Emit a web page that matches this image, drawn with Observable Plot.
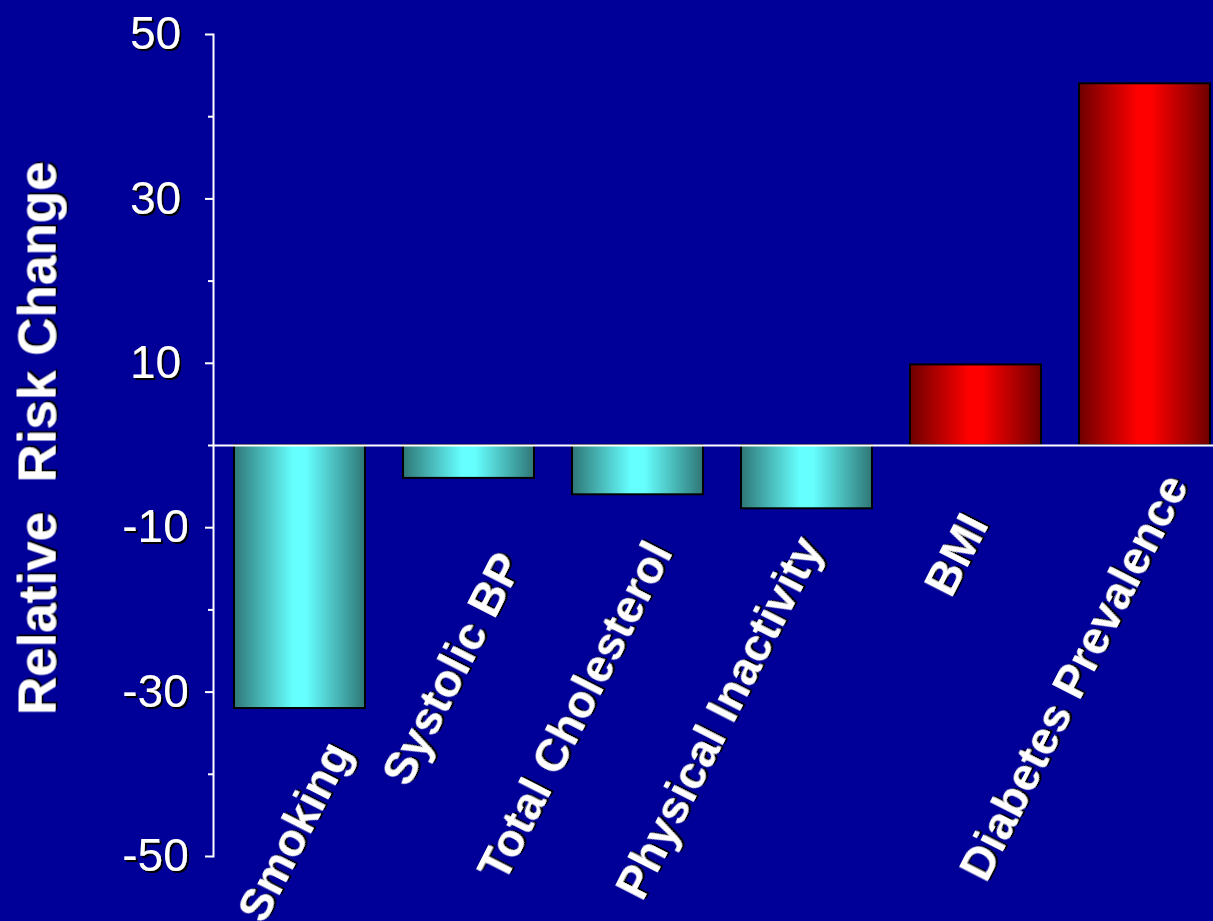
<!DOCTYPE html>
<html>
<head>
<meta charset="utf-8">
<script src="https://cdn.jsdelivr.net/npm/d3@7"></script>
<script src="https://cdn.jsdelivr.net/npm/@observablehq/plot@0.6"></script>
<style>
html, body { margin: 0; padding: 0; background: #000099; overflow: hidden; }
#chart svg { display: block; }
#chart svg text { white-space: pre; }
</style>
</head>
<body>
<div id="chart"></div>
<script>
// ---- data ----
const categories = ["Smoking", "Systolic BP", "Total Cholesterol", "Physical Inactivity", "BMI", "Diabetes Prevalence"];
const values = [-32, -4, -6, -7.7, 9.8, 44];
const majorTicks = [50, 30, 10, -10, -30, -50];
const minorTicks = [40, 20, 0, -20, -40];
const yTitle = "Relative  Risk Change";

// ---- layout (label placement offsets, px) ----
const labelOffsets = [[39, 300], [41, 111], [22, 100], [3, 95], [0, 72], [31, 33]];

const data = categories.map((name, i) => ({name, value: values[i]}));
const font = "'Liberation Sans', Arial, Helvetica, sans-serif";

const labelMarks = data.map((d, i) =>
  Plot.text([d], {
    x: "name", y: () => 0, text: "name",
    rotate: -63, textAnchor: "end", lineAnchor: "middle",
    fontSize: 46, fontWeight: "bold", fill: "white",
    dx: labelOffsets[i][0], dy: labelOffsets[i][1]
  })
);

const plot = Plot.plot({
  width: 1213,
  height: 921,
  marginLeft: 213,
  marginRight: 0,
  marginTop: 34,
  marginBottom: 65,
  style: {background: "#000099", color: "white", fontFamily: font},
  x: {type: "band", domain: categories, range: [233, 1211], paddingInner: 0.227, paddingOuter: 0, axis: null},
  y: {domain: [-50, 50], range: [856, 34], axis: null},
  marks: [
    Plot.barY(data.filter(d => d.value < 0), {x: "name", y1: () => 0, y2: "value", fill: "url(#gradCyan)", stroke: "black", strokeWidth: 2}),
    Plot.barY(data.filter(d => d.value >= 0), {x: "name", y1: () => 0, y2: "value", fill: "url(#gradRed)", stroke: "black", strokeWidth: 2}),
    Plot.ruleY([0], {stroke: "white", strokeWidth: 2}),
    Plot.frame({anchor: "left", stroke: "white", strokeWidth: 2}),
    Plot.axisY(majorTicks, {anchor: "left", label: null, tickSize: 8, tickPadding: 50, textAnchor: "middle", fontSize: 46, tickFormat: d => String(d), stroke: "white", strokeWidth: 2, fill: "white"}),
    Plot.axisY(minorTicks, {anchor: "left", label: null, tickSize: 5, tickFormat: () => "", stroke: "white", strokeWidth: 2}),
    Plot.text([yTitle], {text: d => d, frameAnchor: "left", textAnchor: "middle", lineAnchor: "middle", rotate: -90, fontSize: 53, fontWeight: "bold", fill: "white", dx: -175, dy: -7}),
    ...labelMarks
  ]
});

document.getElementById("chart").appendChild(plot);

// gradients + text shadow
const svg = d3.select(plot);
const defs = svg.insert("defs", ":first-child");
function grad(id, edge, mid) {
  const g = defs.append("linearGradient").attr("id", id).attr("x1", 0).attr("x2", 1).attr("y1", 0).attr("y2", 0);
  [[0, edge], [0.45, mid], [0.55, mid], [1, edge]].forEach(([o, c]) => g.append("stop").attr("offset", o).attr("stop-color", c));
}
grad("gradCyan", "#2e7676", "#66ffff");
grad("gradRed", "#6e0000", "#ff0000");
const f = defs.append("filter").attr("id", "shadow").attr("x", "-20%").attr("y", "-20%").attr("width", "140%").attr("height", "140%");
f.append("feDropShadow").attr("dx", 2).attr("dy", 2).attr("stdDeviation", 0.4).attr("flood-color", "#000").attr("flood-opacity", 1);
svg.selectAll("text").attr("filter", "url(#shadow)");
</script>
</body>
</html>
